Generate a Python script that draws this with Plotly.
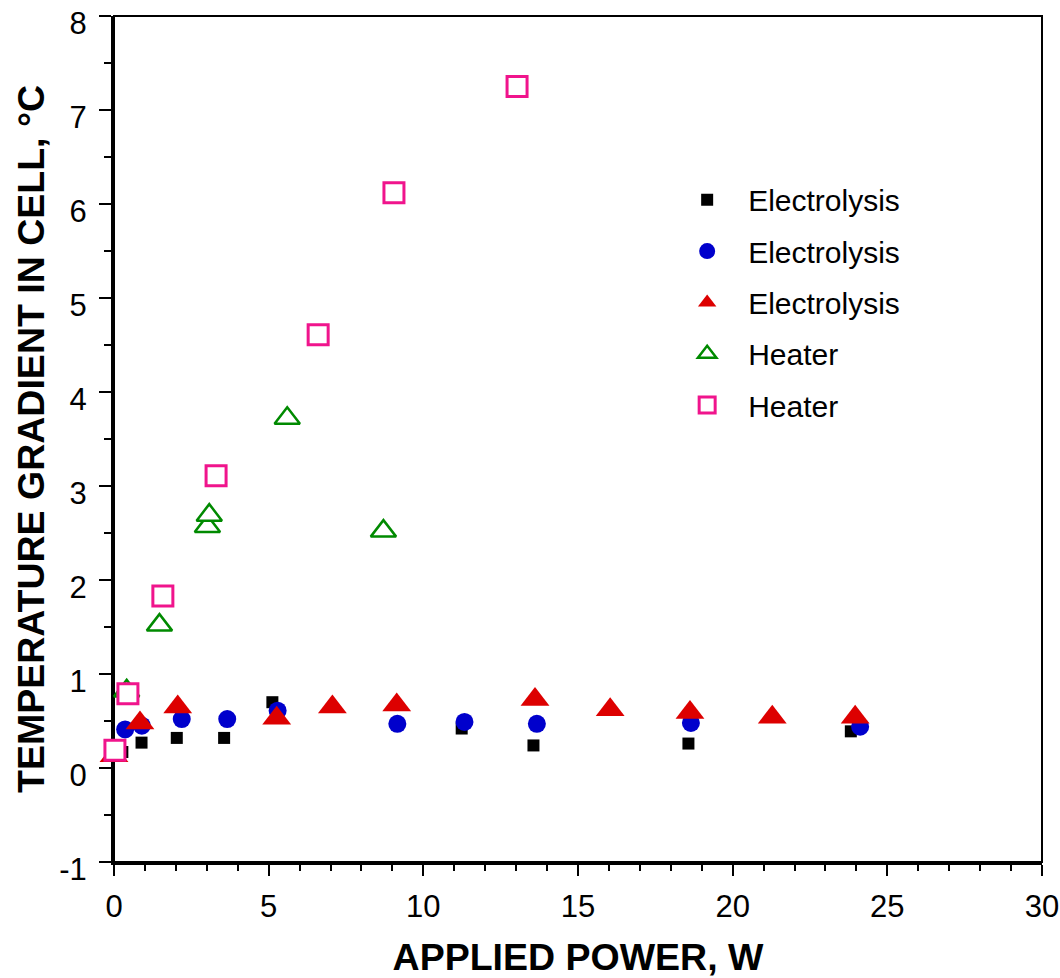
import plotly.graph_objects as go

# Electrolysis (black squares)
elec1_x = [0.27, 0.89, 2.03, 3.56, 5.12, 11.24, 13.56, 18.57, 23.82]
elec1_y = [0.17, 0.27, 0.32, 0.32, 0.70, 0.42, 0.24, 0.26, 0.39]

# Electrolysis (blue circles)
elec2_x = [0.36, 0.90, 2.19, 3.66, 5.29, 9.16, 11.33, 13.67, 18.65, 24.12]
elec2_y = [0.41, 0.45, 0.52, 0.52, 0.61, 0.47, 0.49, 0.47, 0.48, 0.44]

# Electrolysis (red triangles)
elec3_x = [0.0, 0.84, 2.06, 5.26, 7.06, 9.14, 13.61, 16.04, 18.62, 21.28, 23.96]
elec3_y = [0.13, 0.48, 0.65, 0.53, 0.65, 0.67, 0.73, 0.62, 0.59, 0.54, 0.54]

# Heater (green open triangles)
heat1_x = [0.41, 1.47, 3.02, 3.08, 5.60, 8.71]
heat1_y = [0.82, 1.52, 2.57, 2.69, 3.72, 2.52]

# Heater (pink open squares)
heat2_x = [0.03, 0.45, 1.58, 3.30, 6.60, 9.05, 13.03]
heat2_y = [0.19, 0.79, 1.83, 3.11, 4.61, 6.12, 7.25]

# Tick labels
x_tickvals = [0, 5, 10, 15, 20, 25, 30]
x_ticktext = ["0", "5", "10", "15", "20", "25", "30"]
y_tickvals = [-1, 0, 1, 2, 3, 4, 5, 6, 7, 8]
y_ticktext = ["-1", "0", "1", "2", "3", "4", "5", "6", "7", "8"]

FONT = "Liberation Sans, Arial, sans-serif"

fig = go.Figure()
fig.add_trace(go.Scatter(x=elec1_x, y=elec1_y, mode="markers", name="Electrolysis",
                         legendgroup="a",
                         marker=dict(symbol="square", size=12, color="#000000"),
                         cliponaxis=False))
fig.add_trace(go.Scatter(x=elec2_x, y=elec2_y, mode="markers", name="Electrolysis",
                         legendgroup="b",
                         marker=dict(symbol="circle", size=18, color="#0000cc"),
                         cliponaxis=False))
fig.add_trace(go.Scatter(x=elec3_x, y=elec3_y, mode="markers", name="Electrolysis",
                         legendgroup="c",
                         marker=dict(symbol="triangle-up", size=25, color="#dd0000"),
                         cliponaxis=False))
fig.add_trace(go.Scatter(x=heat1_x, y=heat1_y, mode="markers", name="Heater",
                         legendgroup="d",
                         marker=dict(symbol="triangle-up", size=22, color="white",
                                     line=dict(color="#008a00", width=2.5)),
                         cliponaxis=False))
fig.add_trace(go.Scatter(x=heat2_x, y=heat2_y, mode="markers", name="Heater",
                         legendgroup="e",
                         marker=dict(symbol="square", size=20, color="white",
                                     line=dict(color="#f0148c", width=3)),
                         cliponaxis=False))

fig.update_layout(
    width=1060, height=978,
    margin=dict(l=114, r=18, t=16, b=116, autoexpand=False),
    paper_bgcolor="white", plot_bgcolor="white",
    font=dict(family=FONT, size=31, color="black"),
    showlegend=True,
    legend=dict(x=0.595, y=0.8135, xanchor="left", yanchor="top",
                bgcolor="rgba(0,0,0,0)", font=dict(size=30, family=FONT),
                tracegroupgap=9.3, itemwidth=72, traceorder="grouped"),
    shapes=[dict(type="rect", xref="paper", yref="paper", x0=0, y0=0, x1=1, y1=1,
                 line=dict(color="black", width=2), layer="below")],
)

fig.update_xaxes(
    range=[0, 30], tickmode="array", tickvals=x_tickvals, ticktext=x_ticktext,
    showgrid=False, zeroline=False, automargin=False,
    showline=True, linecolor="black", linewidth=3,
    ticks="outside", ticklen=11, tickwidth=2, tickcolor="black",
    minor=dict(dtick=1, tick0=0, ticks="outside", ticklen=6, tickwidth=2, tickcolor="black", showgrid=False),
    tickfont=dict(size=31, family=FONT),
    ticklabelstandoff=4,
    title=dict(text="<b>APPLIED POWER, W</b>", font=dict(size=37.5, family=FONT), standoff=22),
    layer="below traces",
)
fig.update_yaxes(
    range=[-1, 8], tickmode="array", tickvals=y_tickvals, ticktext=y_ticktext,
    showgrid=False, zeroline=False, automargin=False,
    showline=True, linecolor="black", linewidth=3,
    ticks="outside", ticklen=12, tickwidth=2, tickcolor="black",
    minor=dict(dtick=0.5, tick0=0, ticks="outside", ticklen=7, tickwidth=2, tickcolor="black", showgrid=False),
    tickfont=dict(size=31, family=FONT),
    ticklabelshift=7,
    ticklabelstandoff=6,
    title=dict(text="<b>TEMPERATURE GRADIENT IN CELL, °C</b>", font=dict(size=37.5, family=FONT), standoff=4),
    layer="below traces",
)

fig.write_html("out.html")
